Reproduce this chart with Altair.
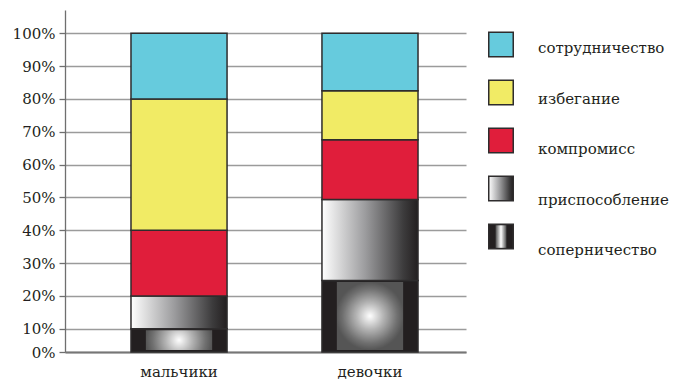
import altair as alt
import pandas as pd

groups = ["мальчики", "девочки"]
styles = ["соперничество", "приспособление", "компромисс", "избегание", "сотрудничество"]
boys = [10, 10, 20, 40, 20]
girls = [24.7, 24.7, 18.2, 14.9, 17.5]
y_ticks = [0, 10, 20, 30, 40, 50, 60, 70, 80, 90, 100]
legend_order = ["сотрудничество", "избегание", "компромисс", "приспособление", "соперничество"]

rows = []
for g, vals in zip(groups, [boys, girls]):
    for i, (s, v) in enumerate(zip(styles, vals)):
        rows.append({"group": g, "style": s, "order": i, "value": v})
df = pd.DataFrame(rows)
legend_df = pd.DataFrame({"style": legend_order})

FONT = "DejaVu Serif"
TEXT = "#231f20"
STROKE = "#2e2c2d"
DARK = "#231f20"

linear = alt.LinearGradient(
    gradient="linear",
    stops=[
        alt.GradientStop(color="#ffffff", offset=0),
        alt.GradientStop(color="#9c9c9e", offset=0.45),
        alt.GradientStop(color="#3c3b3c", offset=0.85),
        alt.GradientStop(color="#231f20", offset=1),
    ],
    x1=0, y1=0, x2=1, y2=0,
)
radial = alt.RadialGradient(
    gradient="radial",
    stops=[
        alt.GradientStop(color="#ffffff", offset=0),
        alt.GradientStop(color="#b4b4b4", offset=0.4),
        alt.GradientStop(color="#707070", offset=0.8),
        alt.GradientStop(color="#555555", offset=1),
    ],
    x1=0.5, y1=0.5, r1=0, x2=0.5, y2=0.5, r2=0.5,
)
cylinder = alt.LinearGradient(
    gradient="linear",
    stops=[
        alt.GradientStop(color="#4a4a4a", offset=0),
        alt.GradientStop(color="#ffffff", offset=0.5),
        alt.GradientStop(color="#4a4a4a", offset=1),
    ],
    x1=0, y1=0, x2=1, y2=0,
)
fills = {
    "сотрудничество": "#66cbdd",
    "избегание": "#f1eb65",
    "компромисс": "#e01e3b",
    "приспособление": linear,
    "соперничество": DARK,
}

x_enc = alt.X(
    "group:N", sort=groups, title=None,
    scale=alt.Scale(paddingInner=0.497, paddingOuter=0.2984, align=0.579),
    axis=alt.Axis(labelAngle=0, ticks=False, domain=True, domainColor="#767676",
                  domainWidth=2, labelPadding=12, labelFont=FONT, labelFontSize=15,
                  labelColor=TEXT, grid=False),
)
y_enc = alt.Y(
    "y0:Q", title=None,
    scale=alt.Scale(domain=[0, 10, 100, 107.1], range=[342, 318.7, 23.3, 0],
                    nice=False, zero=False),
    axis=alt.Axis(values=y_ticks, labelExpr="datum.value + '%'", grid=True,
                  gridColor="#9b9b9b", gridWidth=1.3, domainColor="#6f6f6f",
                  domainWidth=1.3, tickColor="#6f6f6f", tickSize=6, tickWidth=1.3,
                  labelFont=FONT, labelFontSize=15, labelColor=TEXT, labelPadding=4),
)

base = alt.Chart(df).transform_stack(
    stack="value", as_=["y0", "y1"], groupby=["group"],
    sort=[alt.SortField("order", order="ascending")],
)

bar_layers = []
for s in styles:
    bar_layers.append(
        base.transform_filter(alt.datum.style == s)
        .mark_bar(fill=fills[s], stroke=STROKE, strokeWidth=1.5)
        .encode(x=x_enc, y=y_enc, y2="y1:Q")
    )
# inner glowing panel of the "соперничество" blocks
bar_layers.append(
    base.transform_filter(alt.datum.style == "соперничество")
    .mark_bar(fill=radial, width=alt.RelativeBandSize(0.69), yOffset=-2, y2Offset=1.5)
    .encode(x=x_enc, y=y_enc, y2="y1:Q")
)
main = alt.layer(*bar_layers).properties(width=401, height=342)

sq_y = alt.Y("style:N", sort=legend_order, axis=None,
             scale=alt.Scale(type="point", domain=legend_order, padding=1, align=0.36))
txt_y = alt.Y("style:N", sort=legend_order, axis=None,
              scale=alt.Scale(type="point", domain=legend_order, padding=0.851, align=0.442))

legend_layers = []
for s in legend_order:
    legend_layers.append(
        alt.Chart(legend_df).transform_filter(alt.datum.style == s)
        .mark_point(shape="square", filled=True, size=600, fill=fills[s],
                    stroke=STROKE, strokeWidth=1.5, opacity=1)
        .encode(x=alt.value(35), y=sq_y)
    )
legend_layers.append(
    alt.Chart(legend_df).transform_filter(alt.datum.style == "соперничество")
    .mark_point(shape="M-0.45,-0.92L0.45,-0.92L0.45,0.92L-0.45,0.92Z", filled=True,
                size=600, fill=cylinder, strokeWidth=0, opacity=1)
    .encode(x=alt.value(35), y=sq_y)
)
legend_text = alt.Chart(legend_df).mark_text(
    align="left", baseline="middle", font=FONT, fontSize=15, color=TEXT
).encode(x=alt.value(72), y=txt_y, text="style:N")

legend = alt.layer(*legend_layers, legend_text).resolve_scale(y="independent").properties(
    width=212, height=288
)

chart = alt.hconcat(main, legend, spacing=0).properties(
    padding={"left": 12, "top": 10, "right": 0, "bottom": 0}
).configure_view(stroke=None)

chart.save("out.html", embed_options={"renderer": "svg", "actions": False})
